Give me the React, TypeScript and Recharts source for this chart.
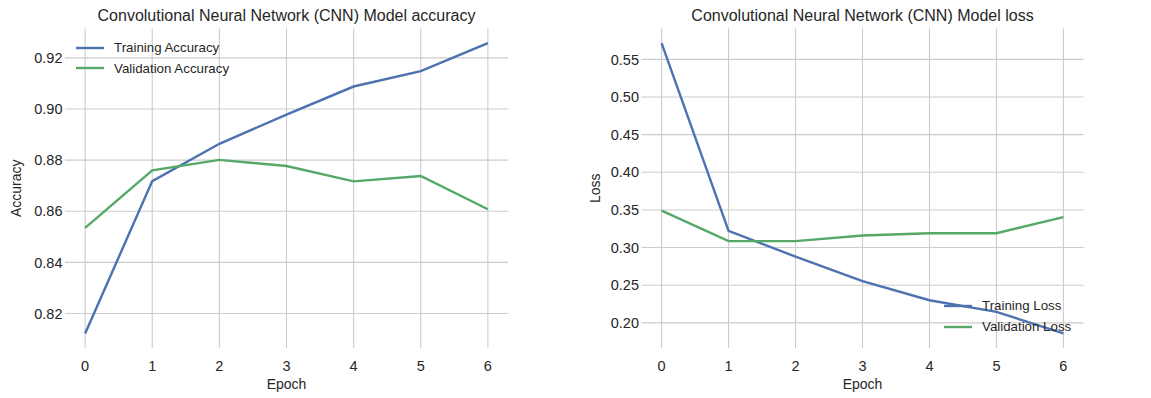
import { LineChart, Line, XAxis, YAxis, CartesianGrid, Legend, Label } from "recharts";

// per-epoch history of the CNN training run
const epochs = [0, 1, 2, 3, 4, 5, 6];
const trainAccuracy = [0.8122, 0.8718, 0.8864, 0.8978, 0.9088, 0.9148, 0.9258];
const valAccuracy = [0.8535, 0.876, 0.8801, 0.8777, 0.8717, 0.8738, 0.8608];
const trainLoss = [0.5717, 0.3222, 0.288, 0.2553, 0.23, 0.2146, 0.1859];
const valLoss = [0.349, 0.3085, 0.3085, 0.316, 0.3191, 0.319, 0.3404];

const accuracyTicks = [0.82, 0.84, 0.86, 0.88, 0.9, 0.92];
const lossTicks = [0.2, 0.25, 0.3, 0.35, 0.4, 0.45, 0.5, 0.55];

const FONT = '"Liberation Sans", Arial, sans-serif';
const TEXT = "#262626";
const GRID = "#cccccc";
const BLUE = "#4c72b0";
const GREEN = "#55a868";

const accuracyData = epochs.map((epoch, i) => ({
  epoch,
  train: trainAccuracy[i],
  val: valAccuracy[i],
}));

const lossData = epochs.map((epoch, i) => ({
  epoch,
  train: trainLoss[i],
  val: valLoss[i],
}));

interface LegendItem {
  label: string;
  color: string;
}

function LegendBox({ items }: { items: LegendItem[] }) {
  return (
    <div style={{ fontFamily: FONT }}>
      {items.map((item) => (
        <div key={item.label} style={{ display: "flex", alignItems: "center", height: 20.6 }}>
          <svg width={28} height={4} style={{ display: "block" }}>
            <line x1={0} x2={28} y1={2} y2={2} stroke={item.color} strokeWidth={2.4} />
          </svg>
          <span style={{ marginLeft: 10, fontSize: 13.3, color: TEXT, whiteSpace: "nowrap" }}>
            {item.label}
          </span>
        </div>
      ))}
    </div>
  );
}

const tickStyle = { fontSize: 14.5, fill: TEXT, fontFamily: FONT };

interface PanelProps {
  data: { epoch: number; train: number; val: number }[];
  width: number;
  marginLeft: number;
  marginRight: number;
  yDomain: [number, number];
  yTicks: number[];
  yLabel: string;
  yLabelOffset: number;
  legend: LegendItem[];
  legendPos: { left: number; top: number };
  trainName: string;
  valName: string;
}

function Panel(p: PanelProps) {
  return (
    <LineChart
      width={p.width}
      height={398}
      data={p.data}
      margin={{ top: 28.5, right: p.marginRight, bottom: 0, left: p.marginLeft }}
    >
      <CartesianGrid stroke={GRID} strokeWidth={1.1} syncWithTicks />
      <XAxis
        dataKey="epoch"
        type="number"
        domain={[-0.3, 6.3]}
        ticks={epochs}
        allowDataOverflow
        axisLine={false}
        tickLine={false}
        tickSize={0}
        tickMargin={12.5}
        height={50}
        tick={tickStyle}
      >
        <Label
          value="Epoch"
          position="insideBottom"
          offset={9}
          style={{ fontSize: 14, fill: TEXT, fontFamily: FONT }}
        />
      </XAxis>
      <YAxis
        type="number"
        domain={p.yDomain}
        ticks={p.yTicks}
        allowDataOverflow
        axisLine={false}
        tickLine={false}
        tickSize={0}
        tickMargin={2.5}
        width={60}
        tick={tickStyle}
        tickFormatter={(v: number) => v.toFixed(2)}
      >
        <Label
          value={p.yLabel}
          angle={-90}
          position="insideLeft"
          offset={p.yLabelOffset}
          style={{ fontSize: 14, fill: TEXT, fontFamily: FONT, textAnchor: "middle" }}
        />
      </YAxis>
      <Legend
        layout="vertical"
        align="center"
        verticalAlign="middle"
        wrapperStyle={{ left: p.legendPos.left, top: p.legendPos.top, width: "auto" }}
        content={() => <LegendBox items={p.legend} />}
      />
      <Line
        type="linear"
        dataKey="train"
        name={p.trainName}
        stroke={BLUE}
        strokeWidth={2.4}
        dot={false}
        isAnimationActive={false}
      />
      <Line
        type="linear"
        dataKey="val"
        name={p.valName}
        stroke={GREEN}
        strokeWidth={2.4}
        dot={false}
        isAnimationActive={false}
      />
    </LineChart>
  );
}

const titleStyle: React.CSSProperties = {
  position: "absolute",
  top: 6,
  fontFamily: FONT,
  fontSize: 16,
  color: TEXT,
  whiteSpace: "nowrap",
  transform: "translateX(-50%)",
  lineHeight: "20px",
};

export default function App() {
  return (
    <div
      style={{
        position: "absolute",
        left: 0,
        top: 0,
        width: 1151,
        height: 398,
        background: "#ffffff",
        overflow: "hidden",
      }}
    >
      <div style={{ position: "absolute", left: 0, top: 0 }}>
        <Panel
          data={accuracyData}
          width={520}
          marginLeft={5}
          marginRight={12}
          yDomain={[0.8065, 0.9315]}
          yTicks={accuracyTicks}
          yLabel="Accuracy"
          yLabelOffset={11.5}
          legend={[
            { label: "Training Accuracy", color: BLUE },
            { label: "Validation Accuracy", color: GREEN },
          ]}
          legendPos={{ left: 76, top: 37.4 }}
          trainName="Training Accuracy"
          valName="Validation Accuracy"
        />
      </div>
      <div style={{ position: "absolute", left: 580, top: 0 }}>
        <Panel
          data={lossData}
          width={515}
          marginLeft={1.5}
          marginRight={11.5}
          yDomain={[0.1666, 0.591]}
          yTicks={lossTicks}
          yLabel="Loss"
          yLabelOffset={13.5}
          legend={[
            { label: "Training Loss", color: BLUE },
            { label: "Validation Loss", color: GREEN },
          ]}
          legendPos={{ left: 364, top: 295.7 }}
          trainName="Training Loss"
          valName="Validation Loss"
        />
      </div>
      <div style={{ ...titleStyle, left: 286.5 }}>Convolutional Neural Network (CNN) Model accuracy</div>
      <div style={{ ...titleStyle, left: 862.5 }}>Convolutional Neural Network (CNN) Model loss</div>
    </div>
  );
}
